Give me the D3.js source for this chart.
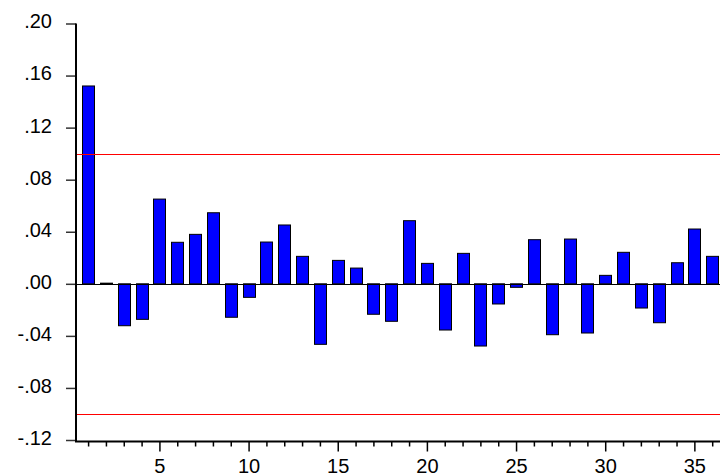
<!DOCTYPE html>
<html>
<head>
<meta charset="utf-8">
<script src="https://cdn.jsdelivr.net/npm/d3@7"></script>
<style>
  html, body { margin: 0; padding: 0; background: #fff; }
  svg text { font-family: "Liberation Sans", Arial, sans-serif; font-size: 20px; fill: #000; }
</style>
</head>
<body>
<div id="chart"></div>
<script>
const lags = d3.range(1, 37)
const values = [
  0.152, 0.0005, -0.0322, -0.0273, 0.0651, 0.0319, 0.038, 0.0546, -0.0257, -0.0104,
  0.0321, 0.0452, 0.0211, -0.0465, 0.018, 0.0121, -0.0234, -0.0288, 0.0485, 0.0157,
  -0.0355, 0.0234, -0.0478, -0.0155, -0.0027, 0.0339, -0.0391, 0.0344, -0.0378, 0.0065,
  0.0242, -0.0186, -0.0299, 0.0162, 0.0421, 0.0211
]
const bands = [0.10, -0.10]
const yTicks = [-0.12, -0.08, -0.04, 0, 0.04, 0.08, 0.12, 0.16, 0.20]
const xLabelTicks = [5, 10, 15, 20, 25, 30, 35]

const width = 720, height = 476
const plotLeft = 76, plotRight = 720, plotTop = 23.5, plotBottom = 440

const svg = d3.select('#chart').append('svg').attr('width', width).attr('height', height)

const x = d3.scaleLinear().domain([1, 36]).range([88.1, 712.2])
const y = d3.scaleLinear().domain([-0.12, 0.20]).range([plotBottom, plotTop])

// eviews style: ".20", "-.04"
const fmt = d => d3.format('.2f')(d).replace('\u2212', '-').replace('0.', '.')

// bars
const barW = 12
svg.append('g').selectAll('rect')
  .data(lags)
  .join('rect')
  .attr('x', d => Math.round(x(d) - barW / 2) + 0.5)
  .attr('y', (d, i) => Math.min(y(values[i]), y(0)))
  .attr('width', barW)
  .attr('height', (d, i) => Math.abs(y(values[i]) - y(0)))
  .attr('fill', '#0000ff')
  .attr('stroke', '#000')
  .attr('stroke-width', 1)

// zero line
svg.append('line')
  .attr('x1', plotLeft).attr('x2', plotRight)
  .attr('y1', Math.round(y(0)) + 0.5).attr('y2', Math.round(y(0)) + 0.5)
  .attr('stroke', '#000').attr('stroke-width', 1)

// confidence bands
svg.append('g').selectAll('line')
  .data(bands)
  .join('line')
  .attr('x1', plotLeft).attr('x2', plotRight)
  .attr('y1', d => Math.round(y(d)) + 0.5).attr('y2', d => Math.round(y(d)) + 0.5)
  .attr('stroke', '#ff0000').attr('stroke-width', 1)

// y axis
const yAxis = svg.append('g')
  .attr('transform', `translate(${plotLeft},0)`)
  .call(d3.axisLeft(y).tickValues(yTicks).tickFormat(fmt).tickSize(10).tickPadding(14))
yAxis.select('.domain').remove()
yAxis.selectAll('.tick line').attr('stroke', '#333').attr('stroke-width', 1.5)
yAxis.selectAll('.tick text').attr('dy', '0.32em').attr('y', -2).style('font-size', '20px')
  .style('font-family', '"Liberation Sans", Arial, sans-serif')

svg.append('line')
  .attr('x1', plotLeft).attr('x2', plotLeft)
  .attr('y1', plotTop).attr('y2', plotBottom + 2)
  .attr('stroke', '#000').attr('stroke-width', 2)

// x axis
const axisY = plotBottom + 1.5
const xAxis = svg.append('g')
  .attr('transform', `translate(0,${axisY})`)
  .call(d3.axisBottom(x).tickValues(lags)
    .tickFormat(d => xLabelTicks.includes(d) ? d : '')
    .tickSize(5).tickPadding(12))
xAxis.select('.domain').remove()
xAxis.selectAll('.tick line')
  .attr('y2', d => xLabelTicks.includes(d) ? 10 : 5)
  .attr('stroke', '#000').attr('stroke-width', 1.5)
xAxis.selectAll('.tick text').style('font-size', '20px')
  .style('font-family', '"Liberation Sans", Arial, sans-serif')

svg.append('line')
  .attr('x1', plotLeft - 1).attr('x2', plotRight)
  .attr('y1', axisY).attr('y2', axisY)
  .attr('stroke', '#000').attr('stroke-width', 2)
</script>
</body>
</html>
